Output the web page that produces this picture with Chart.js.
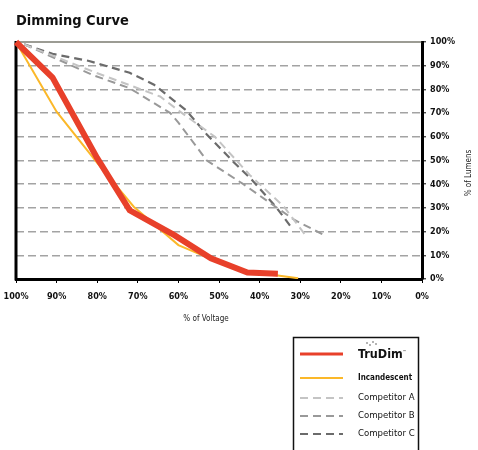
<!DOCTYPE html>
<html>
<head>
<meta charset="utf-8">
<title>Dimming Curve</title>
<script src="https://cdn.jsdelivr.net/npm/chart.js@4.4.1/dist/chart.umd.min.js"></script>
<style>
  html, body { margin: 0; padding: 0; background: #fff; }
  #wrap { position: relative; width: 478px; height: 450px; }
</style>
</head>
<body>
<div id="wrap"><canvas id="dimmingChart"></canvas></div>
<script>
const FONT = "'Liberation Sans Narrow', 'DejaVu Sans Condensed', sans-serif";

// % of voltage (x) / % of lumens (y)
const seriesNames = ["TruDim", "Incandescent", "Competitor A", "Competitor B", "Competitor C"];

const trudimVoltage = [100, 91, 80, 72, 61, 52, 43, 35.5];
const trudimLumens  = [100, 85, 51, 29, 18.5, 8.7, 2.7, 2.2];

const incandescentVoltage = [100, 90, 80, 71, 60, 52, 43, 35.5, 30.5];
const incandescentLumens  = [100, 70.6, 49, 30.5, 14.3, 8.5, 2.8, 1.5, 0.3];

const competitorAVoltage = [98, 81, 70, 64.5, 59.5, 51, 42.5, 34, 28.5];
const competitorALumens  = [99, 87.5, 80.5, 77, 70.5, 60, 44, 30.5, 18];

const competitorBVoltage = [98, 81, 72, 62, 60, 53, 44, 36.5, 31.5, 23.5];
const competitorBLumens  = [99, 86, 80.5, 70, 66, 50, 40, 31, 25, 18];

const competitorCVoltage = [98, 91, 82, 72, 66, 58, 53, 46.5, 42, 36, 32.5];
const competitorCLumens  = [99, 95, 92, 87, 82, 71, 61, 49.5, 42, 30.5, 22.5];

const axisMin = 0;
const axisMax = 100;
const axisStep = 10;

const xTitle = "% of Voltage";
const yTitle = "% of Lumens";

/**
 * Slår ihop x- och y-listor till punkter för Chart.js
 */
function toPoints(xs, ys) {
    return xs.map((x, i) => ({ x, y: ys[i] }));
}

const pct = (v) => v + "%";

// egen legend-ruta nere till höger + axeltitlar (y-titeln läses nerifrån och upp)
const legendRowY = [354, 378, 398, 416, 434];

const extras = {
    id: "extras",
    beforeDatasetsDraw(chart) {
        const { ctx, chartArea: a } = chart;
        ctx.save();
        ctx.strokeStyle = "#000";
        ctx.lineWidth = 3;
        ctx.beginPath();
        ctx.moveTo(a.left, a.top - 1);
        ctx.lineTo(a.left, a.bottom + 1.5);
        ctx.stroke();
        ctx.strokeStyle = "#3a3a2a";
        ctx.lineWidth = 1.2;
        ctx.beginPath();
        ctx.moveTo(a.left, a.top);
        ctx.lineTo(a.right, a.top);
        ctx.stroke();
        ctx.restore();
    },
    afterDraw(chart) {
        const { ctx } = chart;
        ctx.save();

        ctx.fillStyle = "#222";
        ctx.font = "8px " + FONT;
        ctx.textAlign = "center";
        ctx.textBaseline = "middle";
        ctx.fillText(xTitle, 206, 319);

        ctx.translate(469, 173);
        ctx.rotate(-Math.PI / 2);
        ctx.fillText(yTitle, 0, 0);
        ctx.setTransform(chart.currentDevicePixelRatio, 0, 0, chart.currentDevicePixelRatio, 0, 0);

        ctx.strokeStyle = "#111";
        ctx.lineWidth = 1.5;
        ctx.strokeRect(293.5, 337.5, 125, 130);

        chart.data.datasets.forEach((ds, i) => {
            const y = legendRowY[i];
            ctx.strokeStyle = ds.borderColor;
            ctx.lineWidth = i === 0 ? 3 : 2;
            ctx.setLineDash(ds.borderDash || []);
            ctx.beginPath();
            ctx.moveTo(300, y);
            ctx.lineTo(343, y);
            ctx.stroke();
            ctx.setLineDash([]);

            ctx.fillStyle = "#111";
            ctx.textAlign = "left";
            ctx.textBaseline = "middle";
            if (i === 0) {
                ctx.font = "bold 12.5px " + FONT;
                ctx.fillText(ds.label, 358, y + 1);
                const w = ctx.measureText(ds.label).width;
                ctx.font = "4px " + FONT;
                ctx.fillText("™", 358 + w, y - 2);
                ctx.fillStyle = "#555";
                [[370, y - 9], [373, y - 12], [376, y - 10], [367, y - 11]].forEach(([dx, dy]) => {
                    ctx.beginPath();
                    ctx.arc(dx, dy, 0.8, 0, Math.PI * 2);
                    ctx.fill();
                });
            } else if (i === 1) {
                ctx.font = "bold 8px " + FONT;
                ctx.fillText(ds.label, 358, y);
            } else {
                ctx.font = "9.5px " + FONT;
                ctx.fillText(ds.label, 358, y);
            }
        });
        ctx.restore();
    },
};

function renderChart(canvas) {
    return new Chart(canvas, {
        type: "scatter",
        data: {
            datasets: [
                {
                    label: seriesNames[0],
                    data: toPoints(trudimVoltage, trudimLumens),
                    borderColor: "#e8402a",
                    borderWidth: 6,
                    clip: false,
                },
                {
                    label: seriesNames[1],
                    data: toPoints(incandescentVoltage, incandescentLumens),
                    borderColor: "#fbb829",
                    borderWidth: 2,
                },
                {
                    label: seriesNames[2],
                    data: toPoints(competitorAVoltage, competitorALumens),
                    borderColor: "#c4c4c4",
                    borderWidth: 2,
                    borderDash: [8, 5],
                },
                {
                    label: seriesNames[3],
                    data: toPoints(competitorBVoltage, competitorBLumens),
                    borderColor: "#999999",
                    borderWidth: 2,
                    borderDash: [8, 5],
                },
                {
                    label: seriesNames[4],
                    data: toPoints(competitorCVoltage, competitorCLumens),
                    borderColor: "#6b6b6b",
                    borderWidth: 2.2,
                    borderDash: [8, 5],
                },
            ],
        },
        options: {
            responsive: true,
            maintainAspectRatio: false,
            animation: false,
            showLine: true,
            elements: {
                point: { radius: 0, hoverRadius: 0 },
                line: { tension: 0, borderCapStyle: "butt", borderJoinStyle: "miter" },
            },
            layout: { padding: { left: 16, right: 0, top: 0, bottom: 124 } },
            plugins: {
                legend: { display: false },
                tooltip: { enabled: false },
                title: {
                    display: true,
                    text: "Dimming Curve",
                    align: "start",
                    color: "#111",
                    font: { family: FONT, size: 14.5, weight: "bold" },
                    padding: { top: 13, bottom: 11.6 },
                },
            },
            scales: {
                x: {
                    type: "linear",
                    position: "bottom",
                    reverse: true,
                    min: axisMin,
                    max: axisMax,
                    afterFit: (s) => {
                        s.height = 47;
                        s.paddingLeft = 0;
                        s.paddingRight = 0;
                    },
                    ticks: {
                        stepSize: axisStep,
                        callback: pct,
                        autoSkip: false,
                        maxRotation: 0,
                        padding: 8,
                        color: "#111",
                        font: { family: FONT, size: 9, weight: "bold" },
                    },
                    grid: {
                        drawOnChartArea: false,
                        drawTicks: true,
                        tickLength: 4,
                        tickColor: "#000",
                        tickWidth: 1,
                    },
                    border: { color: "#000", width: 3 },
                },
                y: {
                    type: "linear",
                    position: "right",
                    min: axisMin,
                    max: axisMax,
                    afterFit: (s) => { s.width = 56; },
                    ticks: {
                        stepSize: axisStep,
                        callback: pct,
                        padding: 4,
                        color: "#111",
                        font: { family: FONT, size: 9, weight: "bold" },
                    },
                    grid: {
                        color: (c) => (c.tick && (c.tick.value === 0 || c.tick.value === 100)) ? "rgba(0,0,0,0)" : "#a3a3a3",
                        lineWidth: 1.6,
                        tickLength: 4,
                        tickColor: "#000",
                        tickWidth: 1,
                    },
                    border: { color: "#000", width: 3, dash: [8, 4] },
                },
            },
        },
        plugins: [extras],
    });
}

const canvas = document.querySelector("#dimmingChart");
if (canvas) renderChart(canvas);
</script>
</body>
</html>
